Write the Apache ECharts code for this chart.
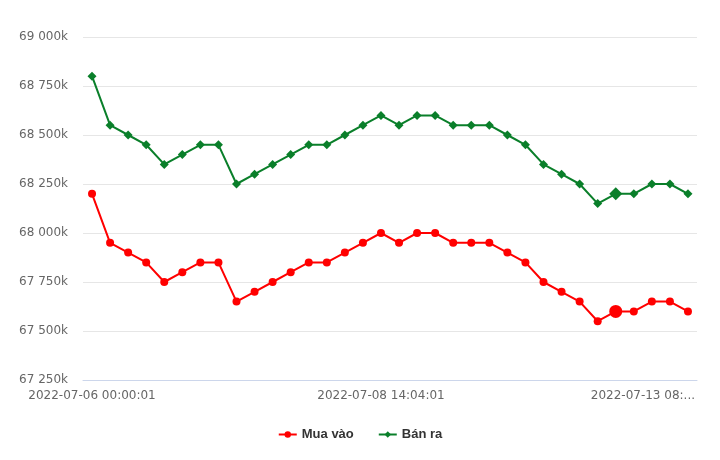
<!DOCTYPE html>
<html>
<head>
<meta charset="utf-8">
<script src="https://cdn.jsdelivr.net/npm/echarts@6/dist/echarts.min.js"></script>
<style>html,body{margin:0;padding:0;background:#fff}#c{width:720px;height:460px}</style>
</head>
<body>
<div id="c"></div>
<script>
var categories = [
  "2022-07-06 00:00:01","2022-07-06 08:30:01","2022-07-06 10:15:01","2022-07-06 14:00:01",
  "2022-07-06 16:30:01","2022-07-07 08:30:01","2022-07-07 10:00:01","2022-07-07 14:30:01",
  "2022-07-07 16:00:01","2022-07-07 18:00:01","2022-07-08 08:30:01","2022-07-08 09:30:01",
  "2022-07-08 10:00:01","2022-07-08 10:45:01","2022-07-08 11:30:01","2022-07-08 13:30:01",
  "2022-07-08 14:04:01","2022-07-08 15:30:01","2022-07-09 08:30:01","2022-07-09 10:00:01",
  "2022-07-09 14:00:01","2022-07-11 08:30:01","2022-07-11 10:00:01","2022-07-11 14:00:01",
  "2022-07-11 16:00:01","2022-07-12 08:30:01","2022-07-12 09:30:01","2022-07-12 10:30:01",
  "2022-07-12 14:00:01","2022-07-12 16:00:01","2022-07-13 08:00:01","2022-07-13 08:15:01",
  "2022-07-13 08:30:01","2022-07-13 09:00:01"
];
var buyValues = [68200,67950,67900,67850,67750,67800,67850,67850,67650,67700,67750,67800,67850,67850,67900,67950,68000,67950,68000,68000,67950,67950,67950,67900,67850,67750,67700,67650,67550,67600,67600,67650,67650,67600];
var sellValues = [68800,68550,68500,68450,68350,68400,68450,68450,68250,68300,68350,68400,68450,68450,68500,68550,68600,68550,68600,68600,68550,68550,68550,68500,68450,68350,68300,68250,68150,68200,68200,68250,68250,68200];
var seriesNames = ["Mua vào","Bán ra"];
var yTicks = {min: 67250, max: 69000, interval: 250};
var hoverIndex = 29;

function fmtK(v){
  var s = String(Math.round(v));
  return s.replace(/\B(?=(\d{3})+(?!\d))/g, " ") + "k";
}
function withHover(arr, bigSize){
  return arr.map(function(v,i){ return i === hoverIndex ? {value: v, symbolSize: bigSize} : v; });
}

var chart = echarts.init(document.getElementById('c'), null, {renderer:'canvas'});
chart.setOption({
  animation: false,
  backgroundColor: '#ffffff',
  grid: {left: 83, right: 23, top: 37, bottom: 80, containLabel: false, outerBoundsMode: 'none'},
  legend: {
    bottom: 14, left: 'center',
    itemWidth: 18, itemHeight: 8, itemGap: 24,
    textStyle: {fontFamily: 'Liberation Sans', fontWeight: 'bold', fontSize: 13, color: '#333333'},
    data: seriesNames
  },
  xAxis: {
    type: 'category',
    boundaryGap: true,
    data: categories,
    axisLine: {show: true, lineStyle: {color: '#ccd6eb', width: 1}},
    axisTick: {show: false},
    axisLabel: {
      interval: 15,
      margin: 10,
      color: '#666666',
      fontFamily: 'DejaVu Sans',
      fontSize: 12,
      formatter: function(v, i){
        if (i === 32) { return '{t|' + v.slice(0, 14) + '...}{s| }'; }
        return v;
      },
      rich: {
        t: {color: '#666666', fontFamily: 'DejaVu Sans', fontSize: 12},
        s: {width: 54}
      }
    },
    splitLine: {show: false}
  },
  yAxis: {
    type: 'value',
    min: yTicks.min, max: yTicks.max, interval: yTicks.interval,
    axisLine: {show: false},
    axisTick: {show: false},
    axisLabel: {margin: 15, color: '#666666', fontFamily: 'DejaVu Sans', fontSize: 12, formatter: fmtK},
    splitLine: {lineStyle: {color: '#e6e6e6', width: 1}}
  },
  series: [
    {
      name: seriesNames[0], type: 'line',
      data: withHover(buyValues, 13),
      symbol: 'circle', symbolSize: 8,
      lineStyle: {color: '#ff0000', width: 2},
      itemStyle: {color: '#ff0000'},
      emphasis: {disabled: true}
    },
    {
      name: seriesNames[1], type: 'line',
      data: withHover(sellValues, 13),
      symbol: 'diamond', symbolSize: 9,
      lineStyle: {color: '#0a7f2a', width: 2},
      itemStyle: {color: '#0a7f2a'},
      emphasis: {disabled: true}
    }
  ]
});
</script>
</body>
</html>
